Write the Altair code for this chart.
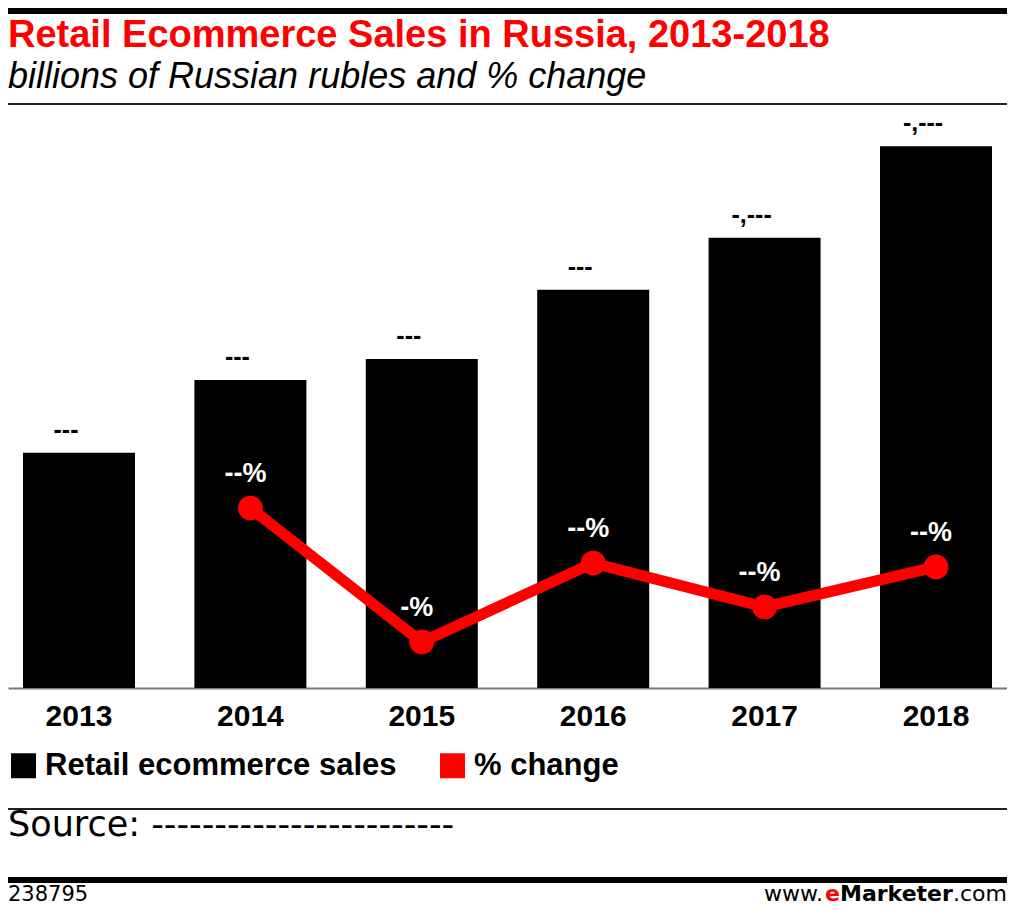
import altair as alt
import pandas as pd

# ---- data ----
years = ["2013", "2014", "2015", "2016", "2017", "2018"]
sales = [547, 716, 765, 926, 1047, 1260]
sales_labels = ["---", "---", "---", "---", "-,---", "-,---"]
pct_years = ["2014", "2015", "2016", "2017", "2018"]
pct_change = [30.9, 6.8, 21.0, 13.1, 20.3]
pct_labels = ["--%", "-%", "--%", "--%", "--%"]
series = ["Retail ecommerce sales", "% change"]
colors = ["#000000", "#ff0000"]

bars_df = pd.DataFrame({"year": years, "sales": sales, "label": sales_labels,
                        "series": [series[0]] * len(years)})
pct_df = pd.DataFrame({"year": pct_years, "pct": pct_change, "label": pct_labels})

W, H = 999, 578
FONT = "Liberation Sans"

xscale = alt.Scale(type="band", domain=years, paddingInner=0.3466, paddingOuter=0.0875)
xaxis = alt.Axis(title=None, labelAngle=0, labelFont=FONT, labelFontSize=30,
                 labelFontWeight="bold", labelColor="#000000", ticks=False, tickSize=0,
                 labelPadding=13, domainColor="#777777", domainWidth=2, grid=False)
ysales = alt.Scale(domain=[0, 1344], nice=False, zero=True)
ypct = alt.Scale(domain=[-1.48, 102.52], nice=False, zero=False)

x_enc = alt.X("year:N", scale=xscale, axis=xaxis)

bars = alt.Chart(bars_df).mark_bar(size=112).encode(
    x=x_enc,
    y=alt.Y("sales:Q", scale=ysales, axis=None),
    color=alt.Color("series:N", scale=alt.Scale(domain=series, range=colors),
                    legend=alt.Legend(orient="none", legendX=0, legendY=640,
                                      direction="horizontal", title=None,
                                      symbolType="square", symbolSize=625,
                                      symbolStrokeWidth=0, labelFont=FONT,
                                      labelFontSize=31, labelFontWeight="bold",
                                      labelColor="#000000", labelLimit=700,
                                      labelOffset=6, columnPadding=40, padding=0)),
)

bar_labels = alt.Chart(bars_df).mark_text(
    font=FONT, fontSize=25, fontWeight="bold", color="#000000",
    baseline="bottom", dy=-10, dx=-13
).encode(x=x_enc, y=alt.Y("sales:Q", scale=ysales, axis=None), text="label:N")

line = alt.Chart(pct_df).mark_line(color="#ff0000", strokeWidth=11).encode(
    x=x_enc, y=alt.Y("pct:Q", scale=ypct, axis=None))

points = alt.Chart(pct_df).mark_circle(color="#ff0000", size=615, opacity=1).encode(
    x=x_enc, y=alt.Y("pct:Q", scale=ypct, axis=None))

pct_text = alt.Chart(pct_df).mark_text(
    font=FONT, fontSize=27, fontWeight="bold", color="#ffffff",
    baseline="bottom", dy=-20, dx=-5
).encode(x=x_enc, y=alt.Y("pct:Q", scale=ypct, axis=None), text="label:N")

one = alt.Data(values=[{"k": 0}])


def txt(text, x, y, size, weight="normal", style="normal", color="#000000",
        font=FONT, align="left"):
    return alt.Chart(one).mark_text(
        text=text, font=font, fontSize=size, fontWeight=weight, fontStyle=style,
        color=color, align=align, baseline="alphabetic"
    ).encode(x=alt.value(x), y=alt.value(y))


def rule(y, w, color="#000000", x0=0, x1=W):
    return alt.Chart(one).mark_rule(color=color, strokeWidth=w).encode(
        x=alt.value(x0), x2=alt.value(x1), y=alt.value(y))


deco = [
    rule(-99, 6),
    txt("Retail Ecommerce Sales in Russia, 2013-2018", 0, -63, 38, weight="bold", color="#ff0000"),
    txt("billions of Russian rubles and % change", 0, -22, 36, style="italic"),
    rule(-6, 2, color="#222222"),
    rule(699, 2, color="#222222"),
    txt("Source: ------------------------", 0, 726, 35, font="DejaVu Sans"),
    rule(770, 6),
    txt("238795", 0, 791, 21, font="DejaVu Sans"),
    txt("www.", 756, 791, 22, font="DejaVu Sans"),
    txt("e", 817, 791, 22, weight="bold", color="#ff0000", font="DejaVu Sans"),
    txt("Marketer", 832, 791, 22, weight="bold", font="DejaVu Sans"),
    txt(".com", 945, 791, 22, font="DejaVu Sans"),
]

chart = alt.layer(bars, bar_labels, line, points, pct_text, *deco).resolve_scale(
    y="independent"
).properties(
    width=W, height=H,
    autosize=alt.AutoSizeParams(type="none"),
    padding={"left": 0, "top": 102, "right": 0, "bottom": 219},
    background="#ffffff",
).configure_view(stroke=None)

chart.save("out.html", embed_options={"renderer": "svg", "actions": False})
